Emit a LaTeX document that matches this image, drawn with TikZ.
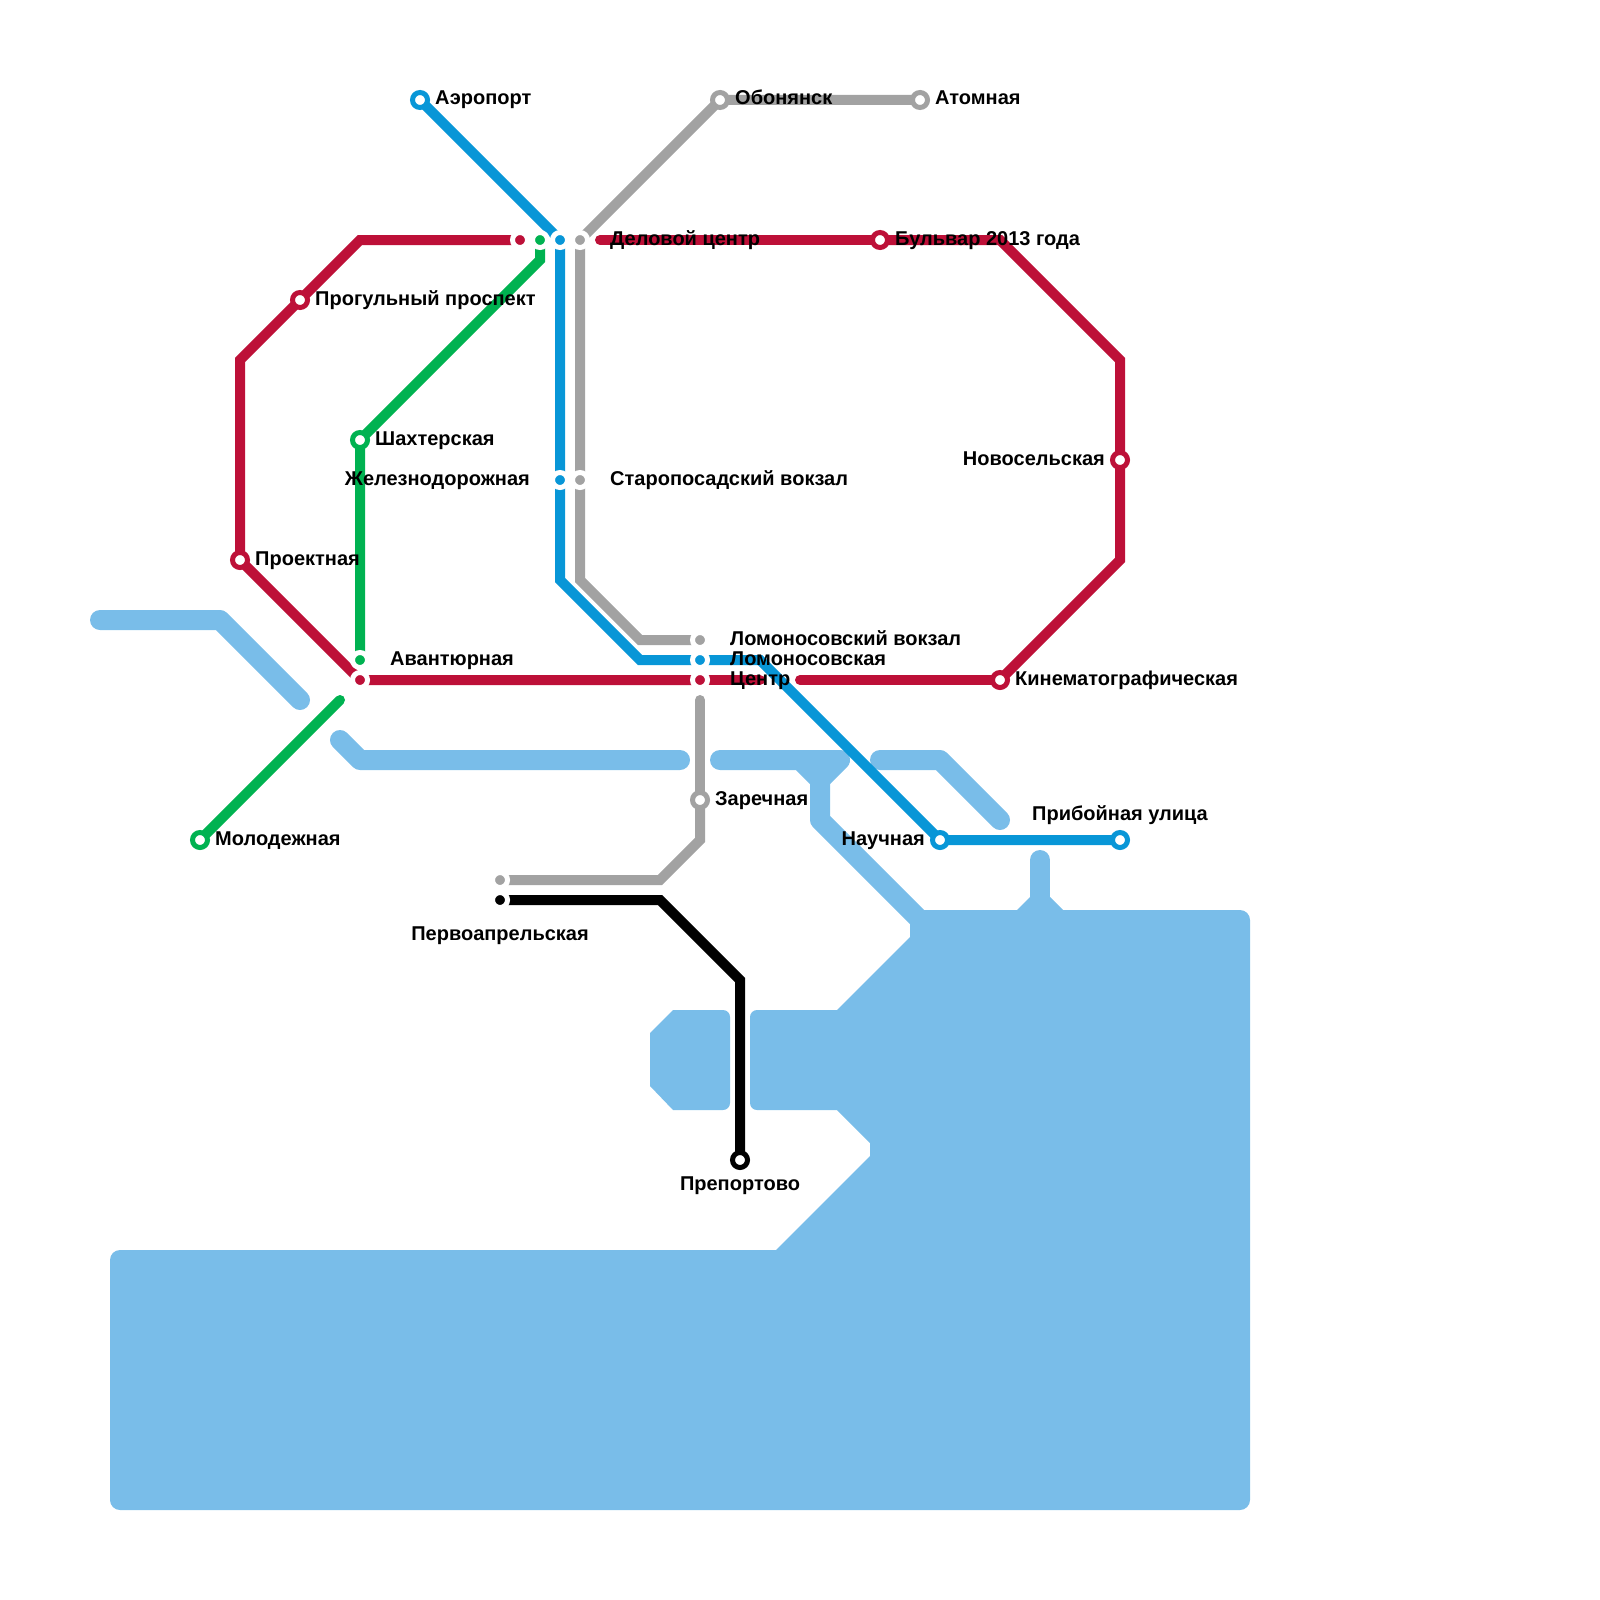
\documentclass[tikz,border=0pt]{standalone}
\usepackage{fontspec}
\setmainfont{Liberation Sans}
\usepackage{tikz}
\usetikzlibrary{arrows.meta,positioning,backgrounds}
\definecolor{redln}{HTML}{BD1038}
\definecolor{blueln}{HTML}{0896D7}
\definecolor{greenln}{HTML}{00B251}
\definecolor{greyln}{HTML}{A2A2A2}
\definecolor{waterc}{HTML}{79BDE9}

\begin{document}
\begin{tikzpicture}[
  x=20pt, y=-20pt,
  font=\fontsize{20}{22}\selectfont\bfseries,
  stn/.style={circle, inner sep=0pt, minimum size=15pt, line width=5pt},
  ring/.style={stn, draw=#1, fill=white},
  hub/.style={stn, draw=white, fill=#1},
  lbl/.style={inner sep=0pt, text height=14pt, text depth=4pt},
  ln/.style={line width=10pt, draw=#1},
  wline/.style={line width=20pt, draw=waterc, line cap=round, line join=round}
]
\useasboundingbox (0,0) rectangle (80,80);
\node[ring=blueln] (aero) at (21,5) {};
\node[ring=greyln] (obon) at (36,5) {};
\node[ring=greyln] (atom) at (46,5) {};
\node[hub=redln] (delo_r) at (26,12) {};
\node[hub=greenln] (delo_z) at (27,12) {};
\node[hub=blueln] (delo_b) at (28,12) {};
\node[hub=greyln] (delo_g) at (29,12) {};
\node[ring=redln] (bulv) at (44,12) {};
\node[ring=redln] (prog) at (15,15) {};
\node[ring=greenln] (shakh) at (18,22) {};
\node[ring=redln] (novo) at (56,23) {};
\node[hub=blueln] (zhel) at (28,24) {};
\node[hub=greyln] (star) at (29,24) {};
\node[ring=redln] (proe) at (12,28) {};
\node[hub=greyln] (lomv) at (35,32) {};
\node[hub=greenln] (avan) at (18,33) {};
\node[hub=blueln] (lomo) at (35,33) {};
\node[hub=redln] (avan_r) at (18,34) {};
\node[hub=redln] (cent) at (35,34) {};
\node[ring=redln] (kino) at (50,34) {};
\node[ring=greyln] (zare) at (35,40) {};
\node[ring=greenln] (mold) at (10,42) {};
\node[ring=blueln] (nauc) at (47,42) {};
\node[ring=blueln] (prib) at (56,42) {};
\node[hub=greyln] (perv_g) at (25,44) {};
\node[hub=black] (perv) at (25,45) {};
\node[ring=black] (prep) at (37,58) {};
\coordinate (mold_e) at (17,35);
\coordinate (cent_e) at (38,34);
\coordinate (kino_e) at (40,34);
\coordinate (delo_e) at (30,12);
\coordinate (zare_e) at (35,35);
\begin{scope}[on background layer]
\begin{scope}[x=1pt, y=-1pt]
\fill[waterc] (924,910) -- (1017,910) -- (1030,897) -- (1050,897) -- (1063,910)
  [rounded corners=10pt] -- (1250,910) -- (1250,1510) -- (110,1510) -- (110,1250)
  [sharp corners] -- (776,1250) -- (870,1156) -- (870,1143) -- (837,1110)
  [rounded corners=7pt] -- (750,1110) -- (750,1010)
  [sharp corners] -- (837,1010) -- (910,937) -- (910,923) -- cycle;
\fill[waterc] (673,1010) [rounded corners=7pt] -- (730,1010) -- (730,1110) [sharp corners] -- (673,1110) -- (650,1086) -- (650,1033) -- cycle;
\end{scope}
\draw[wline] (5,31) -- (11,31) -- (15,35);
\draw[wline] (17,37) -- (18,38) -- (34,38);
\draw[wline] (36,38) -- (42,38) -- (41,39) -- (40,38);
\draw[wline] (41,39) -- (41,41) -- (46,46);
\draw[wline] (44,38) -- (47,38) -- (50,41);
\draw[wline] (52,43) -- (52,46);
\draw[ln=greenln] (delo_z.center) -- (27,13) -- (shakh.center) -- (avan.center);
\draw[ln=greenln, line cap=round] (mold.center) -- (mold_e);
\draw[ln=redln] (delo_r.center) -- (18,12) -- (prog.center) -- (12,18) -- (proe.center) -- (avan_r.center) -- (cent.center);
\draw[ln=redln, line cap=round] (cent.center) -- (cent_e);
\draw[ln=redln, line cap=round] (kino_e) -- (kino.center);
\draw[ln=redln] (kino.center) -- (56,28) -- (novo.center) -- (56,18) -- (50,12) -- (bulv.center);
\draw[ln=redln, line cap=round] (bulv.center) -- (delo_e);
\draw[ln=greyln] (atom.center) -- (obon.center) -- (delo_g.center) -- (star.center) -- (29,29) -- (32,32) -- (lomv.center);
\draw[ln=greyln, line cap=round] (zare_e) -- (zare.center);
\draw[ln=greyln] (zare.center) -- (35,42) -- (33,44) -- (perv_g.center);
\draw[ln=black] (perv.center) -- (33,45) -- (37,49) -- (prep.center);
\draw[ln=blueln] (aero.center) -- (delo_b.center) -- (zhel.center) -- (28,29) -- (32,33) -- (lomo.center) -- (38,33) -- (nauc.center) -- (prib.center);
\end{scope}
\node[lbl, right=5pt of aero] (t_aero) {Аэропорт};
\node[lbl, right=5pt of obon] (t_obon) {Обонянск};
\node[lbl, right=5pt of atom] (t_atom) {Атомная};
\node[lbl, right=20pt of delo_g] (t_delo) {Деловой центр};
\node[lbl, right=5pt of bulv] (t_bulv) {Бульвар 2013 года};
\node[lbl, right=5pt of prog] (t_prog) {Прогульный проспект};
\node[lbl, right=5pt of shakh] (t_shakh) {Шахтерская};
\node[lbl, left=5pt of novo] (t_novo) {Новосельская};
\node[lbl, left=20pt of zhel] (t_zhel) {Железнодорожная};
\node[lbl, right=20pt of star] (t_star) {Старопосадский вокзал};
\node[lbl, right=5pt of proe] (t_proe) {Проектная};
\node[lbl, right=20pt of lomv] (t_lomv) {Ломоносовский вокзал};
\node[lbl, right=20pt of avan] (t_avan) {Авантюрная};
\node[lbl, right=20pt of lomo] (t_lomo) {Ломоносовская};
\node[lbl, right=20pt of cent] (t_cent) {Центр};
\node[lbl, right=5pt of kino] (t_kino) {Кинематографическая};
\node[lbl, right=5pt of zare] (t_zare) {Заречная};
\node[lbl, right=5pt of mold] (t_mold) {Молодежная};
\node[lbl, left=5pt of nauc] (t_nauc) {Научная};
\node[lbl, above=5pt of prib] (t_prib) {Прибойная улица};
\node[lbl, below=16pt of perv] (t_perv) {Первоапрельская};
\node[lbl, below=6pt of prep] (t_prep) {Препортово};
\end{tikzpicture}
\end{document}
